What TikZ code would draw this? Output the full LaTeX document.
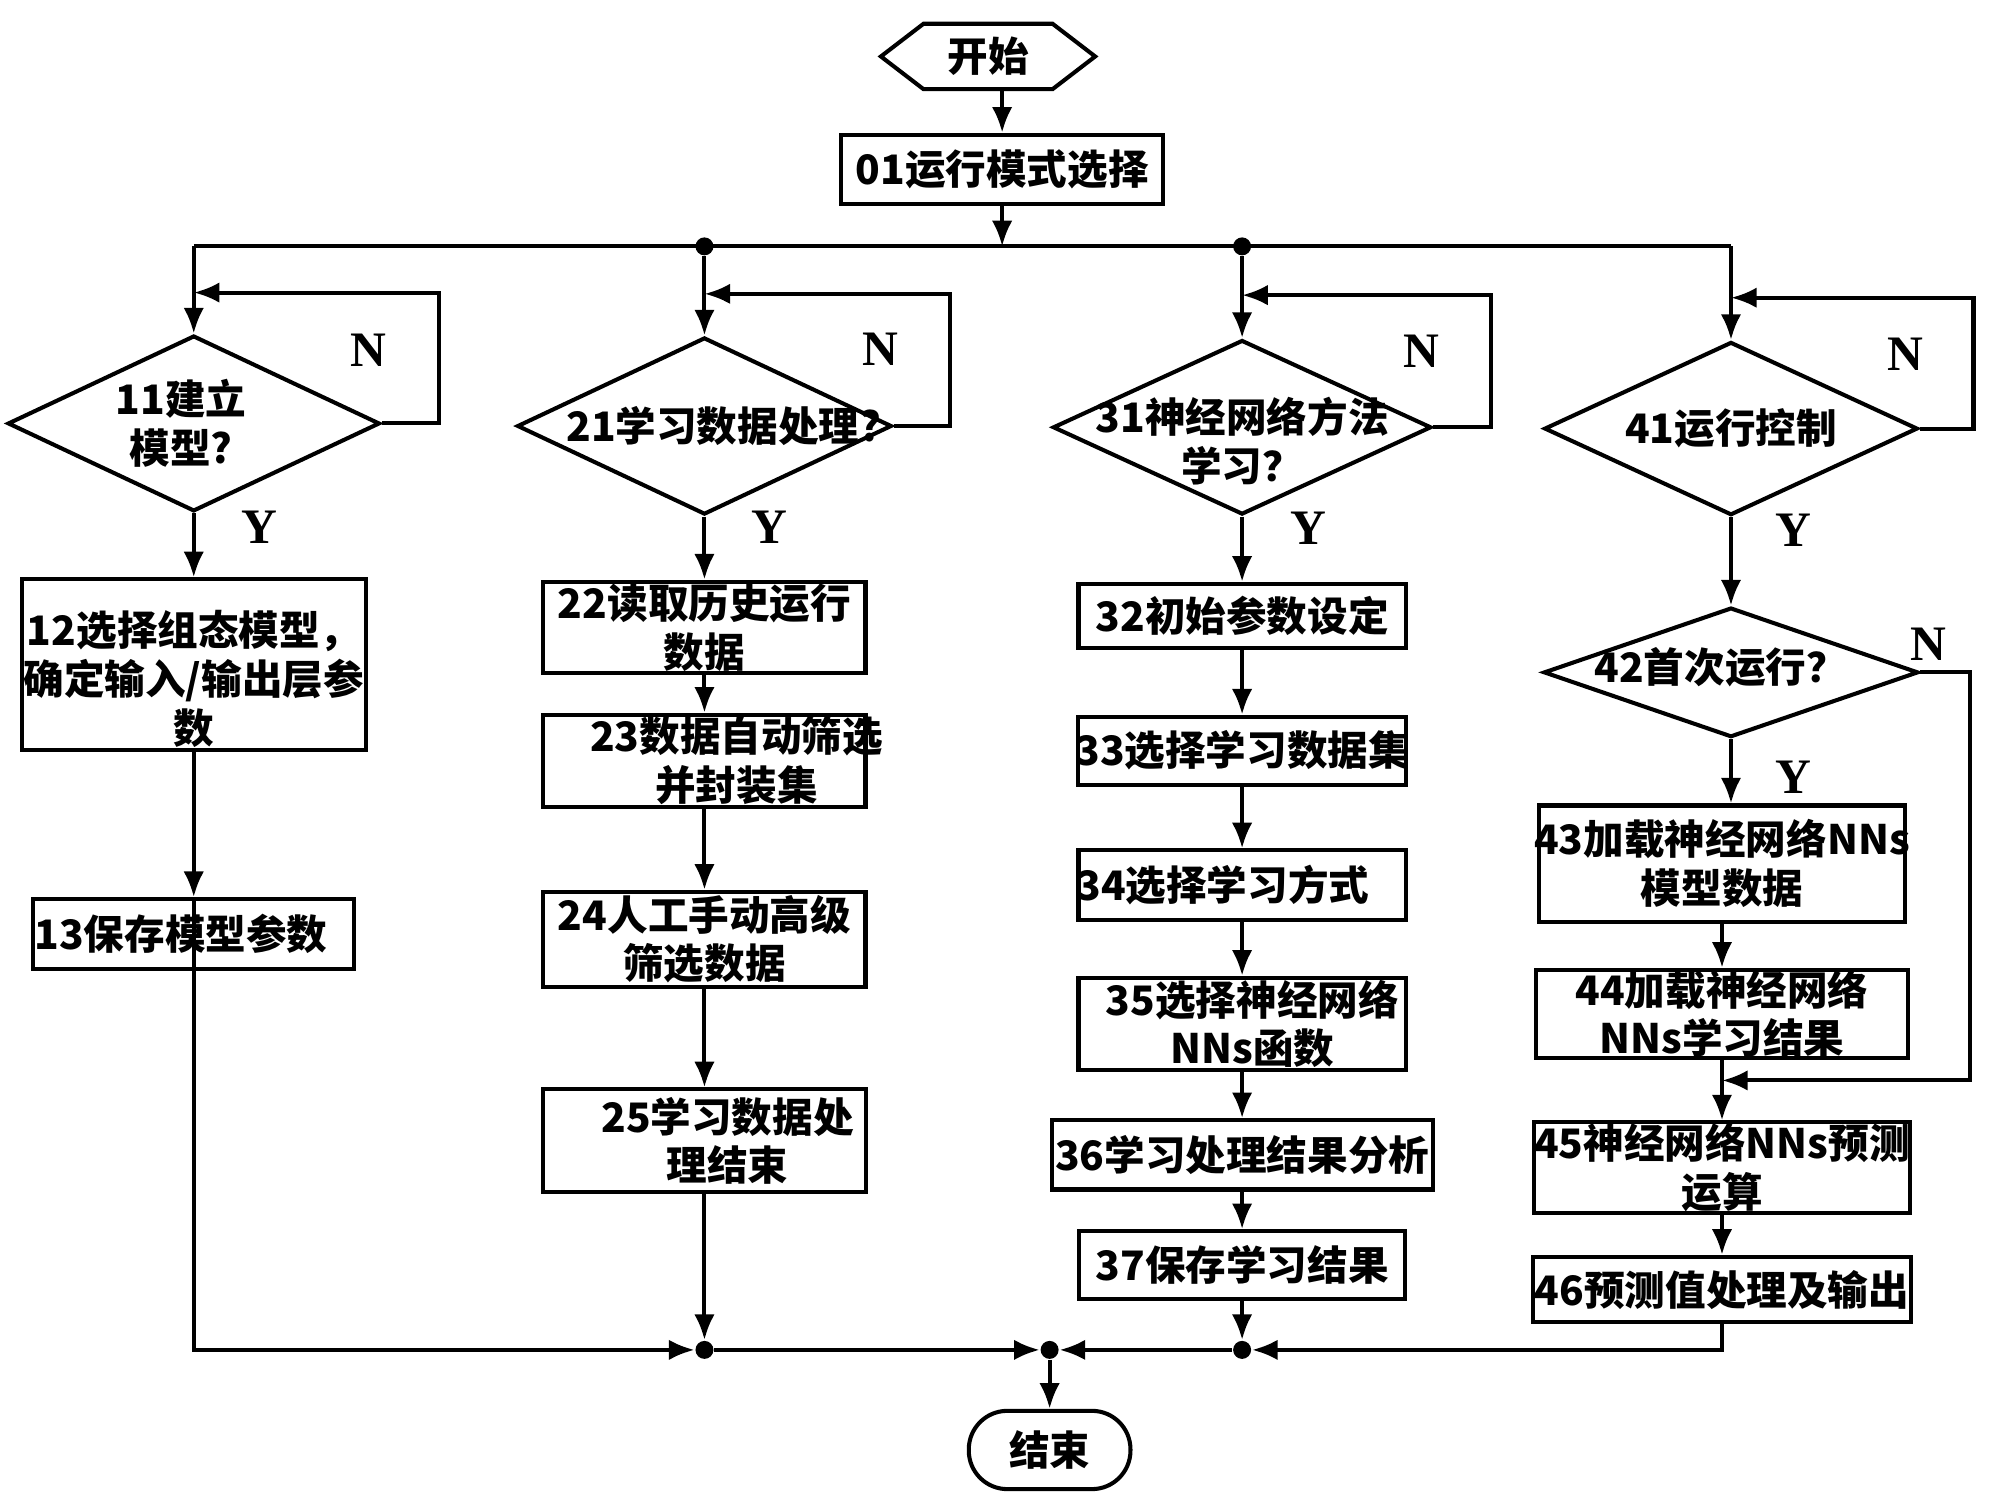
\documentclass[tikz,border=0pt]{standalone}
\usepackage{fontspec}
\setmainfont{Liberation Serif}
\newfontfamily\cjk{Noto Sans CJK SC}
\usetikzlibrary{shapes.geometric,shapes.symbols,arrows.meta}
\newcommand{\lab}{\cjk\bfseries\fontsize{9pt}{10.8pt}\selectfont}

\begin{document}
\begin{tikzpicture}[x=0.1mm,y=-0.1mm,
  flow/.style={draw, line width=0.9pt, font=\lab, inner sep=0pt, align=center},
  box/.style={flow, rectangle},
  dia/.style={flow, diamond},
  lbl/.style={font=\lab, align=center},
  yn/.style={font=\bfseries\fontsize{11pt}{11pt}\selectfont},
  line/.style={line width=0.9pt},
  arr/.style={line, -{Latex[length=2mm,width=1.6mm]}},
  dot/.style={circle, fill, inner sep=0pt, minimum size=1.4mm}]
\useasboundingbox (0,0) rectangle (1568,1162);

% start and mode selection
\node[flow, signal, signal to=east and west, signal pointer angle=75, minimum width=16.7mm, minimum height=5.1mm] (start) at (770,44) {开始};
\node[box, minimum width=25.1mm, minimum height=5.4mm] (b01) at (781,132) {01运行模式选择};
\coordinate (bus) at (781,192);
\coordinate (bl) at (151,192);
\coordinate (br) at (1349,192);
\node[dot] (n2) at (549,192) {};
\node[dot] (n3) at (968,192) {};

% decisions
\node[dia, minimum width=29.0mm, minimum height=13.7mm, label={[lbl, xshift=-1mm]center:11建立\\模型?}] (d11) at (151,330) {};
\node[dia, minimum width=29.2mm, minimum height=13.8mm, label={[lbl, xshift=1.5mm]center:21学习数据处理?}] (d21) at (549,332) {};
\node[dia, minimum width=29.5mm, minimum height=13.6mm, label={[lbl, yshift=-1.1mm]center:31神经网络方法\\学习？}] (d31) at (968,333) {};
\node[dia, minimum width=29.1mm, minimum height=13.5mm, label={[lbl]center:41运行控制}] (d41) at (1349,334) {};
\node[dia, minimum width=29.2mm, minimum height=10.1mm, label={[lbl, xshift=-0.8mm, yshift=0.4mm]center:42首次运行？}] (d42) at (1349,524) {};

% column 1
\node[box, minimum width=26.8mm, minimum height=13.3mm, label={[lbl, yshift=-1.1mm]center:12选择组态模型，\\\makebox[0pt]{确定输入/输出层参}\\数}] (b12) at (151,518) {};
\node[box, minimum width=25.0mm, minimum height=5.45mm] (b13) at (151,728) {\makebox[0pt]{13保存模型参数\hspace*{2mm}}};

% column 2
\node[box, minimum width=25.1mm, minimum height=7.15mm] (b22) at (549,489) {22读取历史运行\\数据};
\node[box, minimum width=25.1mm, minimum height=7.2mm] (b23) at (549,593) {\makebox[0pt]{\hspace*{5mm}23数据自动筛选}\\\makebox[0pt]{\hspace*{5mm}并封装集}};
\node[box, minimum width=25.1mm, minimum height=7.4mm] (b24) at (549,732) {24人工手动高级\\筛选数据};
\node[box, minimum width=25.2mm, minimum height=8.0mm] (b25) at (549,889) {\makebox[0pt]{\hspace*{3.6mm}25学习数据处}\\\makebox[0pt]{\hspace*{3.6mm}理结束}};

% column 3
\node[box, minimum width=25.5mm, minimum height=5.0mm] (b32) at (968,480) {32初始参数设定};
\node[box, minimum width=25.6mm, minimum height=5.3mm] (b33) at (968,585) {\makebox[0pt]{33选择学习数据集}};
\node[box, minimum width=25.5mm, minimum height=5.45mm] (b34) at (968,690) {\makebox[0pt]{34选择学习方式\hspace*{3mm}}};
\node[box, minimum width=25.5mm, minimum height=7.2mm] (b35) at (968,798) {\makebox[0pt]{\hspace*{1.6mm}35选择神经网络}\\\makebox[0pt]{\hspace*{1.6mm}NNs函数}};
\node[box, minimum width=29.7mm, minimum height=5.4mm] (b36) at (968,900) {36学习处理结果分析};
\node[box, minimum width=25.4mm, minimum height=5.3mm] (b37) at (968,986) {37保存学习结果};

% column 4
\node[box, minimum width=28.5mm, minimum height=9.05mm] (b43) at (1342,673) {\makebox[0pt]{43加载神经网络NNs}\\模型数据};
\node[box, minimum width=29.0mm, minimum height=6.5mm] (b44) at (1342,790) {44加载神经网络\\NNs学习结果};
\node[box, minimum width=29.3mm, minimum height=7.05mm] (b45) at (1342,910) {\makebox[0pt]{45神经网络NNs预测}\\运算};
\node[box, minimum width=29.5mm, minimum height=5.1mm] (b46) at (1342,1005) {46预测值处理及输出};

% end
\node[dot] (j1) at (549,1052) {};
\node[dot] (j2) at (818,1052) {};
\node[dot] (j3) at (968,1052) {};
\node[flow, rounded corners=3mm, minimum width=12.6mm, minimum height=6.1mm] (endn) at (818,1130) {结束};

% Y / N
\node[yn] (n11) at (287,273) {N};
\node[yn] (n21) at (686,272) {N};
\node[yn] (n31) at (1108,274) {N};
\node[yn] (n41) at (1485,276) {N};
\node[yn] (n42) at (1503,502) {N};
\node[yn] (y11) at (202,411) {Y};
\node[yn] (y21) at (600,411) {Y};
\node[yn] (y31) at (1020,412) {Y};
\node[yn] (y41) at (1398,413) {Y};
\node[yn] (y42) at (1398,606) {Y};

% loop corners
\coordinate (l1) at (342,228);
\coordinate (l2) at (740,229);
\coordinate (l3) at (1162,230);
\coordinate (l4) at (1538,232);
\coordinate (l5) at (1535,842);

% connectors
\draw[arr] (b01.north |- start.south) -- (b01.north);
\draw[arr] (b01) -- (bus);
\draw[line] (bl) -- (br);
\draw[arr] (bl) -- (d11);
\draw[arr] (n2) -- (d21);
\draw[arr] (n3) -- (d31);
\draw[arr] (br) -- (d41);
\draw[arr] (d11.east) -| (l1) -- (l1 -| d11);
\draw[arr] (d21.east) -| (l2) -- (l2 -| d21);
\draw[arr] (d31.east) -| (l3) -- (l3 -| d31);
\draw[arr] (d41.east) -| (l4) -- (l4 -| d41);
\draw[arr] (d11) -- (b12);
\draw[arr] (b12) -- (b13);
\draw[arr] (b13.north) |- (j1);
\draw[arr] (d21) -- (b22);
\draw[arr] (b22) -- (b23);
\draw[arr] (b23) -- (b24);
\draw[arr] (b24) -- (b25);
\draw[arr] (b25) -- (j1);
\draw[arr] (d31) -- (b32);
\draw[arr] (b32) -- (b33);
\draw[arr] (b33) -- (b34);
\draw[arr] (b34) -- (b35);
\draw[arr] (b35) -- (b36);
\draw[arr] (b36) -- (b37);
\draw[arr] (b37) -- (j3);
\draw[arr] (d41) -- (d42);
\draw[arr] (d42.south) -- (d42.south |- b43.north);
\draw[arr] (b43) -- (b44);
\draw[arr] (b44) -- (b45);
\draw[arr] (d42.east) -| (l5) -- (l5 -| b44);
\draw[arr] (b45) -- (b46);
\draw[arr] (b46) |- (j3);
\draw[arr] (j1) -- (j2);
\draw[arr] (j3) -- (j2);
\draw[arr] (j2) -- (endn);
\end{tikzpicture}
\end{document}
